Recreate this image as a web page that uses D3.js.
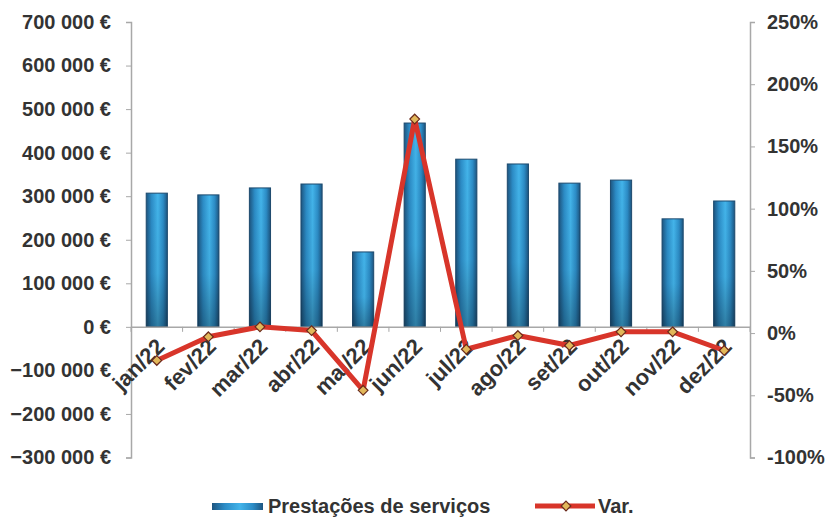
<!DOCTYPE html>
<html><head><meta charset="utf-8">
<script src="https://cdn.jsdelivr.net/npm/d3@7"></script>
<style>
html,body{margin:0;padding:0;background:#fff;}
text{font-family:"Liberation Sans",Arial,sans-serif;font-weight:bold;fill:#333;}
</style></head>
<body>
<svg id="c" width="832" height="517"></svg>
<script>
const categories = ["jan/22","fev/22","mar/22","abr/22","mai/22","jun/22","jul/22","ago/22","set/22","out/22","nov/22","dez/22"];
const prestacoes = [307000,303000,319000,328000,172000,468000,385000,374000,330000,337000,248000,289000];
const variacao = [-0.22,-0.03,0.05,0.02,-0.46,1.72,-0.13,-0.02,-0.10,0.01,0.01,-0.14];
const leftTicks = [-300000,-200000,-100000,0,100000,200000,300000,400000,500000,600000,700000];
const rightTicks = [-1,-0.5,0,0.5,1,1.5,2,2.5];
const seriesNames = ["Prestações de serviços","Var."];

const svg = d3.select("#c");
const L = 131, R = 750, T = 22, B = 457.5;

const x = d3.scaleBand().domain(categories).range([L, R]).paddingInner(0.59).paddingOuter(0.295);
const yL = d3.scaleLinear().domain([-300000, 700000]).range([B, T]);
const yR = d3.scaleLinear().domain([-1, 2.5]).range([B, T]);

const defs = svg.append("defs");
const g = defs.append("linearGradient").attr("id","barG").attr("x1","0").attr("x2","1").attr("y1","0").attr("y2","0");
g.append("stop").attr("offset","0%").attr("stop-color","#1d5580");
g.append("stop").attr("offset","25%").attr("stop-color","#2c8cc6");
g.append("stop").attr("offset","55%").attr("stop-color","#43b4ea");
g.append("stop").attr("offset","80%").attr("stop-color","#2c8cc6");
g.append("stop").attr("offset","100%").attr("stop-color","#1d5580");
const gv = defs.append("linearGradient").attr("id","barV").attr("x1","0").attr("x2","0").attr("y1","0").attr("y2","1");
gv.append("stop").attr("offset","0%").attr("stop-color","#000").attr("stop-opacity",0);
gv.append("stop").attr("offset","60%").attr("stop-color","#000").attr("stop-opacity",0.05);
gv.append("stop").attr("offset","100%").attr("stop-color","#000").attr("stop-opacity",0.3);

const fmtEur = v => d3.format(",")(v).replace(/,/g, "\u00a0") + " €";
const fmtPct = v => Math.round(v*100) + "%";

// Left axis
const axL = d3.axisLeft(yL).tickValues(leftTicks).tickSize(5).tickPadding(15).tickFormat(fmtEur);
const gL = svg.append("g").attr("transform",`translate(${L},0)`).call(axL);
gL.select(".domain").attr("stroke","#a8a8a8").attr("stroke-width",1.5);
gL.selectAll(".tick line").attr("stroke","#a8a8a8");
gL.selectAll(".tick text").style("font-size","20px").attr("fill","#333");

// Right axis
const axR = d3.axisRight(yR).tickValues(rightTicks).tickSize(5).tickPadding(12).tickFormat(fmtPct);
const gR = svg.append("g").attr("transform",`translate(${R},0)`).call(axR);
gR.select(".domain").attr("stroke","#a8a8a8").attr("stroke-width",1.5);
gR.selectAll(".tick line").attr("stroke","#a8a8a8");
gR.selectAll(".tick text").style("font-size","20px").attr("fill","#333");

// Bars
const bars = svg.append("g");
bars.selectAll("rect.b").data(prestacoes).join("rect").attr("class","b")
  .attr("x",(d,i)=>x(categories[i])).attr("width",x.bandwidth())
  .attr("y",d=>yL(d)).attr("height",d=>yL(0)-yL(d))
  .attr("fill","url(#barG)").attr("stroke","#1d4a6e").attr("stroke-width",1);
bars.selectAll("rect.s").data(prestacoes).join("rect").attr("class","s")
  .attr("x",(d,i)=>x(categories[i])).attr("width",x.bandwidth())
  .attr("y",d=>yL(d)).attr("height",d=>yL(0)-yL(d))
  .attr("fill","url(#barV)");

// Category axis at 0
const axX = d3.axisBottom(x).tickSize(0).tickFormat(d=>d);
const gX = svg.append("g").attr("transform",`translate(0,${yL(0)})`).call(axX);
gX.select(".domain").attr("stroke","#a8a8a8").attr("stroke-width",1.5);
gX.selectAll(".tick text").style("font-size","22px").attr("fill","#333")
  .attr("text-anchor","end").attr("dy","0").attr("y",0)
  .attr("transform","translate(9,21) rotate(-45)");
// minor boundary ticks
const step = x.step();
svg.append("g").selectAll("line").data(d3.range(categories.length+1)).join("line")
  .attr("x1",i=>L + i*step).attr("x2",i=>L + i*step)
  .attr("y1",yL(0)).attr("y2",yL(0)+5).attr("stroke","#a8a8a8");

// Line
const cx = i => x(categories[i]) + x.bandwidth()/2;
const line = d3.line().x((d,i)=>cx(i)).y(d=>yR(d)).curve(d3.curveLinear);
svg.append("path").datum(variacao).attr("d",line)
  .attr("fill","none").attr("stroke","#d8352a").attr("stroke-width",5).attr("stroke-linejoin","round");
const diamond = d3.symbol().type(d3.symbolDiamond2).size(60);
svg.append("g").selectAll("path").data(variacao).join("path")
  .attr("d",diamond).attr("transform",(d,i)=>`translate(${cx(i)},${yR(d)})`)
  .attr("fill","#e2b85a").attr("stroke","#6a2a1c").attr("stroke-width",1.2);

// Legend
const lg = svg.append("g");
lg.append("rect").attr("x",212).attr("y",503).attr("width",51).attr("height",7).attr("fill","url(#barG)");
lg.append("text").attr("x",268).attr("y",513).style("font-size","20px").text(seriesNames[0]);
lg.append("line").attr("x1",535).attr("x2",595).attr("y1",506).attr("y2",506).attr("stroke","#d8352a").attr("stroke-width",5);
lg.append("path").attr("d",diamond).attr("transform","translate(566,506)").attr("fill","#e2b85a").attr("stroke","#6a2a1c").attr("stroke-width",1.2);
lg.append("text").attr("x",598).attr("y",513).style("font-size","20px").text(seriesNames[1]);
</script>
</body></html>
